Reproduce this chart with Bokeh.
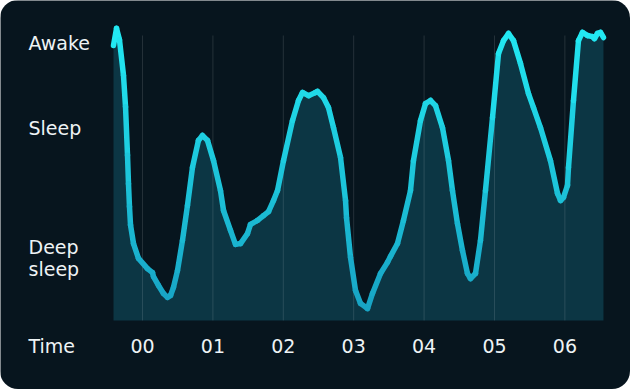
from bokeh.plotting import figure
from bokeh.models import ColumnDataSource
from bokeh.core.properties import value
from bokeh.embed import file_html
from bokeh.resources import INLINE

# ---- data ----
hours = [-0.412, -0.369, -0.327, -0.270, -0.241, -0.213, -0.199, -0.185, -0.170, -0.128, -0.057, 0.071,
         0.142, 0.156, 0.227, 0.298, 0.355, 0.398, 0.440, 0.497, 0.568, 0.639,
         0.710, 0.795, 0.852, 0.923, 1.009, 1.108, 1.151, 1.250, 1.321, 1.392,
         1.491, 1.534, 1.634, 1.719, 1.790, 1.861, 1.918, 2.003, 2.131, 2.216,
         2.273, 2.358, 2.457, 2.486, 2.571, 2.642, 2.713, 2.813, 2.884, 2.898,
         2.955, 3.026, 3.097, 3.196, 3.267, 3.381, 3.480, 3.523, 3.622, 3.707,
         3.807, 3.849, 3.949, 4.020, 4.091, 4.162, 4.261, 4.347, 4.403, 4.474,
         4.545, 4.616, 4.659, 4.730, 4.801, 4.872, 4.972, 5.057, 5.128, 5.199,
         5.270, 5.369, 5.483, 5.554, 5.653, 5.795, 5.895, 5.938, 5.980, 6.037,
         6.051, 6.122, 6.193, 6.250, 6.321, 6.392, 6.420, 6.463, 6.506, 6.548]
level = [96.5, 102.5, 98.5, 86.0, 75.0, 58.0, 48.0, 40.0, 33.5, 27.0, 21.8, 18.2,
         16.8, 15.4, 12.3, 9.5, 8.1, 8.8, 11.6, 17.5, 28.1, 40.4,
         53.7, 63.2, 64.9, 63.2, 56.1, 45.6, 38.6, 31.6, 26.7, 27.0,
         30.5, 33.7, 35.1, 36.8, 38.2, 42.1, 45.6, 56.1, 70.2, 77.2,
         80.0, 78.9, 80.0, 80.4, 78.2, 74.7, 67.7, 57.2, 42.1, 36.1,
         22.1, 10.5, 6.0, 4.2, 9.5, 16.5, 20.4, 22.5, 27.0, 35.1,
         45.6, 56.1, 70.2, 76.1, 77.2, 75.4, 67.7, 56.1, 45.6, 34.0,
         24.6, 16.5, 14.7, 16.5, 28.1, 45.6, 71.2, 93.7, 98.2, 100.7,
         98.2, 90.2, 79.6, 74.7, 67.7, 56.1, 44.6, 42.1, 43.2, 47.4,
         53.7, 77.2, 98.2, 101.1, 100.0, 99.6, 98.9, 100.7, 101.1, 99.3]

hour_ticks = [0, 1, 2, 3, 4, 5, 6]
hour_labels = ["00", "01", "02", "03", "04", "05", "06"]
state_levels = [97.5, 67.4, 22.1]
state_labels = ["Awake", "Sleep", "Deep\nsleep"]
time_label = "Time"

BG = "#07151e"
FONT = "DejaVu Sans"
TXT = "#eef3f5"
FS = "19px"

# frame covers the whole card; positions in hours (x) and sleep level (y)
p = figure(width=630, height=389, output_backend="svg", toolbar_location=None,
           x_range=(-2.017, 6.932), y_range=(-24.21, 112.28),
           min_border=0)
p.background_fill_color = BG
p.border_fill_color = BG
p.outline_line_color = None
p.styles = {"border-radius": "18px", "overflow": "hidden"}
p.axis.visible = False
p.grid.visible = False

# area
p.varea(x=hours, y1=[0] * len(hours), y2=level, fill_color="#0c3644", fill_alpha=1.0)

# vertical grid lines at the hour ticks
p.segment(x0=hour_ticks, y0=[0] * len(hour_ticks), x1=hour_ticks, y1=[100] * len(hour_ticks),
          line_color="#ffffff", line_alpha=0.12, line_width=1)

# gradient line via segments
def mix(c1, c2, t):
    a = [int(c1[i:i + 2], 16) for i in (1, 3, 5)]
    b = [int(c2[i:i + 2], 16) for i in (1, 3, 5)]
    return "#%02x%02x%02x" % tuple(round(a[k] + (b[k] - a[k]) * t) for k in range(3))

top_c, bot_c = "#22e8f2", "#17a0c2"
x0 = hours[:-1]; x1 = hours[1:]; y0 = level[:-1]; y1 = level[1:]
cols = []
for a, b in zip(y0, y1):
    t = 1 - max(0.0, min(1.0, ((a + b) / 2) / 100))
    cols.append(mix(top_c, bot_c, t))
src = ColumnDataSource(dict(x0=x0, x1=x1, y0=y0, y1=y1, c=cols))
p.segment(x0="x0", y0="y0", x1="x1", y1="y1", line_color="c", line_width=5.5,
          line_cap="round", source=src)

# hour tick labels
LABEL_Y = -8.8
p.text(x=hour_ticks, y=[LABEL_Y] * len(hour_ticks), text=hour_labels,
       text_font=value(FONT), text_font_size=value(FS), text_color=TXT,
       text_align="center", text_baseline="middle")

# state labels and "Time"
LEFT_X = -1.619
p.text(x=[LEFT_X] * len(state_levels), y=state_levels, text=state_labels,
       text_font=value(FONT), text_font_size=value(FS), text_color=TXT,
       text_align="left", text_baseline="middle", text_line_height=1.0)
p.text(x=[LEFT_X], y=[LABEL_Y], text=[time_label],
       text_font=value(FONT), text_font_size=value(FS), text_color=TXT,
       text_align="left", text_baseline="middle")

open("out.html", "w").write(file_html(p, INLINE))
